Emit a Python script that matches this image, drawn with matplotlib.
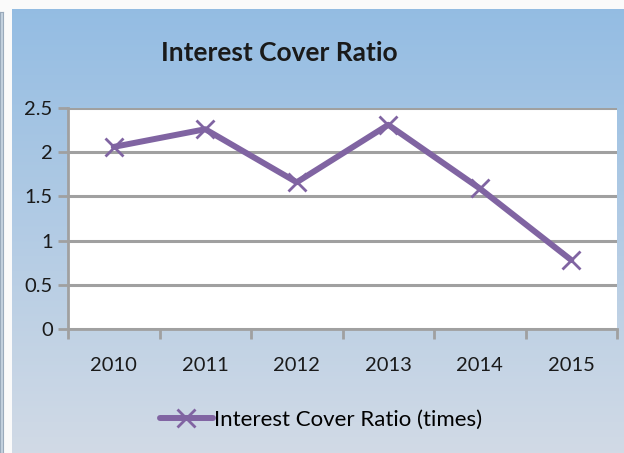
import numpy as np
import matplotlib.pyplot as plt

years = ['2010', '2011', '2012', '2013', '2014', '2015']
ratio = [2.06, 2.26, 1.66, 2.31, 1.59, 0.78]
yticks = [0, 0.5, 1, 1.5, 2, 2.5]
ytick_labels = ['0', '0.5', '1', '1.5', '2', '2.5']

plt.rcParams['font.family'] = ['Lato', 'DejaVu Sans']

W, H = 624, 453
fig = plt.figure(figsize=(W / 100, H / 100), dpi=100)
fig.patch.set_facecolor('#fafafa')

# panel background (blue gradient)
bg = fig.add_axes([12 / W, 0, 1 - 12 / W, (H - 9) / H])
top = np.array([0.58, 0.74, 0.89])
bot = np.array([0.82, 0.855, 0.90])
t = np.linspace(0, 1, 256)[:, None]
grad = (top * (1 - t) + bot * t)[:, None, :]
bg.imshow(grad, aspect='auto', extent=[0, 1, 0, 1])
bg.axis('off')

# neighbouring panel edge on the far left
edge = fig.add_axes([0, 0, 3 / W, (H - 12) / H])
edge.set_facecolor('#c5d3e0')
edge.set_xticks([]); edge.set_yticks([])
for s in edge.spines.values():
    s.set_color('#9aaabb')

ax = fig.add_axes([68 / W, (H - 329) / H, 549 / W, 221 / H])
ax.set_facecolor('white')
x = np.arange(len(years))
ax.plot(x, ratio, color='#8064a2', lw=4.3, marker='x', ms=13, mew=2,
        solid_capstyle='round', zorder=3, label='Interest Cover Ratio (times)')

ax.set_xlim(-0.5, 5.5)
ax.set_ylim(0, 2.5)
ax.set_yticks(yticks)
ax.set_yticklabels(ytick_labels, fontsize=14.5, color='#1a1a1a')
ax.set_xticks(x)
ax.set_xticklabels(years, fontsize=14.5, color='#1a1a1a')
ax.set_xticks(np.arange(-0.5, 6, 1), minor=True)
ax.tick_params(axis='x', which='major', length=0, pad=20)
ax.tick_params(axis='x', which='minor', length=7, width=2, color='#a0a0a0', direction='out')
ax.tick_params(axis='y', length=7, width=2, color='#a0a0a0', pad=4)
ax.grid(axis='y', color='#a0a0a0', lw=2.2, zorder=1)
for side in ['top', 'right']:
    ax.spines[side].set_visible(False)
for side in ['left', 'bottom']:
    ax.spines[side].set_color('#a0a0a0')
    ax.spines[side].set_linewidth(2)

fig.text(279 / W, 1 - 53 / H, 'Interest Cover Ratio', ha='center', va='center',
         fontsize=19, fontweight='bold', color='#1a1a1a')

fig.legend(loc='center', bbox_to_anchor=(321 / W, 1 - 420 / H), frameon=False,
           fontsize=16, handlelength=2.4, handletextpad=0.05)

fig.savefig('out.png', dpi=100)
